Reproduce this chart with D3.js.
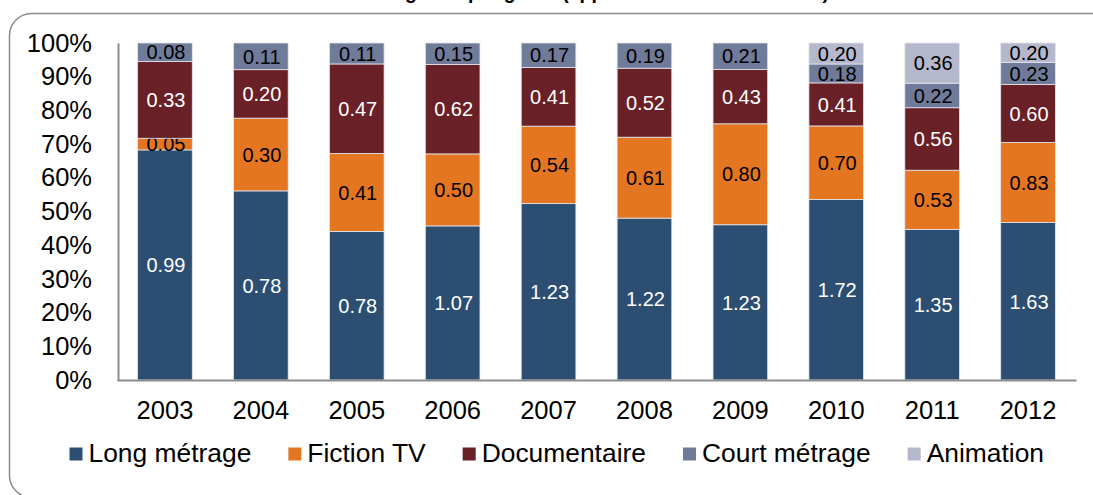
<!DOCTYPE html>
<html>
<head>
<meta charset="utf-8">
<script src="https://cdn.jsdelivr.net/npm/d3@7"></script>
<style>
  body { margin: 0; background: #fff; }
  svg { display: block; font-family: Arial, "Liberation Sans", sans-serif; }
</style>
</head>
<body>
<div id="chart"></div>
<script>
// data
const years = ["2003", "2004", "2005", "2006", "2007", "2008", "2009", "2010", "2011", "2012"];
const seriesNames = ["Long métrage", "Fiction TV", "Documentaire", "Court métrage", "Animation"];
const longMetrage = [0.99, 0.78, 0.78, 1.07, 1.23, 1.22, 1.23, 1.72, 1.35, 1.63];
const fictionTV = [0.05, 0.30, 0.41, 0.50, 0.54, 0.61, 0.80, 0.70, 0.53, 0.83];
const documentaire = [0.33, 0.20, 0.47, 0.62, 0.41, 0.52, 0.43, 0.41, 0.56, 0.60];
const courtMetrage = [0.08, 0.11, 0.11, 0.15, 0.17, 0.19, 0.21, 0.18, 0.22, 0.23];
const animation = [0, 0, 0, 0, 0, 0, 0, 0.20, 0.36, 0.20];
const yTicks = [0, 0.1, 0.2, 0.3, 0.4, 0.5, 0.6, 0.7, 0.8, 0.9, 1];

// sizes
const W = 1093, H = 495;
const plot = { left: 117, right: 1076, top: 43, bottom: 380 };
const colors = ["#2c4e72", "#e47622", "#6a2027", "#707b9a", "#b5b8cc"];
const labelColors = ["#fff", "#000", "#fff", "#000", "#000"];
const axisFont = 25.5;
const legendFont = 26.4;

const rows = years.map((y, i) => ({
  year: y,
  "Long métrage": longMetrage[i],
  "Fiction TV": fictionTV[i],
  "Documentaire": documentaire[i],
  "Court métrage": courtMetrage[i],
  "Animation": animation[i]
}));

const svg = d3.select("#chart").append("svg")
  .attr("width", W)
  .attr("height", H);

// frame
svg.append("rect")
  .attr("x", 9.5).attr("y", 13.5)
  .attr("width", 1110).attr("height", 484)
  .attr("rx", 22)
  .attr("fill", "none")
  .attr("stroke", "#8c8c8c")
  .attr("stroke-width", 1.5);

// title (cut at the top, as in the picture)
svg.append("text")
  .attr("x", 829).attr("y", -1)
  .attr("text-anchor", "end")
  .attr("font-size", 19.5)
  .attr("font-weight", "bold")
  .text("Financement régional par genre (apports en millions d'euros)");

const x = d3.scaleBand()
  .domain(years)
  .range([plot.left, plot.right])
  .paddingInner(0.43)
  .paddingOuter(0.215);

const y = d3.scaleLinear()
  .domain([0, 1])
  .range([plot.bottom, plot.top]);

const stack = d3.stack()
  .keys(seriesNames)
  .offset(d3.stackOffsetExpand);
const layers = stack(rows);

// bars
const layerG = svg.selectAll("g.layer")
  .data(layers)
  .enter()
  .append("g")
  .attr("class", "layer")
  .attr("fill", (d, i) => colors[i]);

layerG.selectAll("rect")
  .data(d => d)
  .enter()
  .append("rect")
  .attr("x", d => x(d.data.year))
  .attr("y", d => y(d[1]))
  .attr("width", x.bandwidth())
  .attr("height", d => y(d[0]) - y(d[1]))
  .attr("stroke", "#e4e6ee")
  .attr("stroke-width", 0.8);

// value labels
layerG.each(function(layer, li) {
  d3.select(this).selectAll("text")
    .data(layer.filter(d => d.data[layer.key] > 0))
    .enter()
    .append("text")
    .attr("x", d => x(d.data.year) + x.bandwidth() / 2 + 1)
    .attr("y", d => y((d[0] + d[1]) / 2))
    .attr("text-anchor", "middle")
    .attr("dy", "0.36em")
    .attr("font-size", 20)
    .attr("fill", labelColors[li])
    .text(d => d.data[layer.key].toFixed(2));
});

// y axis
const yAxis = svg.append("g")
  .attr("transform", `translate(${plot.left + 1},0)`)
  .call(d3.axisLeft(y).tickValues(yTicks).tickFormat(d3.format(".0%")).tickSize(0).tickPadding(26));
yAxis.select(".domain").attr("stroke", "#8c8c8c").attr("stroke-width", 2);
yAxis.selectAll("text")
  .attr("font-size", axisFont)
  .attr("fill", "#000")
  .attr("font-family", "Arial, 'Liberation Sans', sans-serif");

// x axis
const xAxis = svg.append("g")
  .attr("transform", `translate(0,${plot.bottom})`)
  .call(d3.axisBottom(x).tickSize(0).tickSizeOuter(0).tickPadding(21));
xAxis.select(".domain").attr("stroke", "#8c8c8c").attr("stroke-width", 2);
xAxis.selectAll(".tick text")
  .attr("font-size", axisFont)
  .attr("fill", "#000")
  .attr("font-family", "Arial, 'Liberation Sans', sans-serif");

// legend
const legend = svg.append("g").attr("class", "legend");
let lx = 69.5;
seriesNames.forEach((name, i) => {
  legend.append("rect")
    .attr("x", lx).attr("y", 447.5)
    .attr("width", 13).attr("height", 13)
    .attr("fill", colors[i]);
  const t = legend.append("text")
    .attr("x", lx + 19).attr("y", 462)
    .attr("font-size", legendFont)
    .text(name);
  lx += 19 + t.node().getComputedTextLength() + 37;
});
</script>
</body>
</html>
